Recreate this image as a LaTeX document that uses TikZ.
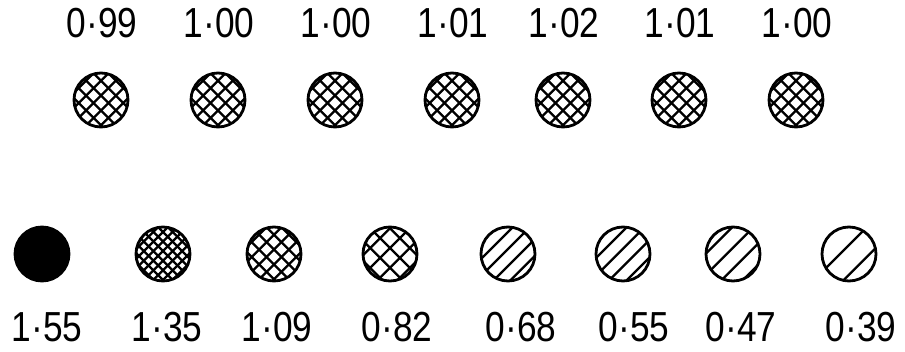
\documentclass[tikz,border=0pt]{standalone}
\usepackage{fontspec}
\setmainfont{Liberation Sans}[FakeStretch=0.84]
\newcommand\hatchball[5]{% name, x, y, spacing, angle list
  \coordinate (#1c) at (#2,#3);
  \begin{scope}
    \clip (#1c) circle (27pt);
    \foreach \a in {#5}{
      \begin{scope}[shift={(#1c)}, rotate=\a]
        \foreach \k in {-7,...,7}{
          \draw[hatchline] (-40pt,{(\k+0.3)*#4 pt}) -- (40pt,{(\k+0.3)*#4 pt});
        }
      \end{scope}}
  \end{scope}
  \node[ball] (#1) at (#1c) {};
}
\begin{document}
\begin{tikzpicture}[x=1pt,y=-1pt,
  lbl/.style={font=\fontsize{42}{44}\selectfont, inner sep=0pt, anchor=base,
    text height=30pt, text depth=0pt},
  ball/.style={circle, draw, line width=2.8pt, minimum size=54pt, inner sep=0pt},
  hatchline/.style={line width=2.3pt},
  solidball/.style={ball, fill=black}
]
\useasboundingbox (0,0) rectangle (905,352);

% top row
\foreach \i/\x/\t in {1/101/0·99, 2/218/1·00, 3/335/1·00, 4/452/1·01, 5/563/1·02, 6/679/1·01, 7/796/1·00}{
  \hatchball{t\i}{\x}{100}{10.5}{45,-45}
  \node[lbl] (tl\i) at (\x+1,38) {\t};
}

% bottom row
\node[solidball] (b1) at (42,254) {};
\hatchball{b2}{163}{254}{6.8}{45,-45}
\hatchball{b3}{274}{254}{10.5}{45,-45}
\hatchball{b4}{390}{254}{14}{45,-45}
\hatchball{b5}{508}{254}{12}{45}
\hatchball{b6}{623}{254}{12.5}{45}
\hatchball{b7}{733}{254}{15}{45}
\hatchball{b8}{849}{254}{21}{45}

\node[lbl] (bl1) at (47,342) {1·55};
\node[lbl] (bl2) at (167,342) {1·35};
\node[lbl] (bl3) at (277,342) {1·09};
\node[lbl] (bl4) at (397,342) {0·82};
\node[lbl] (bl5) at (521,342) {0·68};
\node[lbl] (bl6) at (634,342) {0·55};
\node[lbl] (bl7) at (741,342) {0·47};
\node[lbl] (bl8) at (861,342) {0·39};
\end{tikzpicture}
\end{document}
